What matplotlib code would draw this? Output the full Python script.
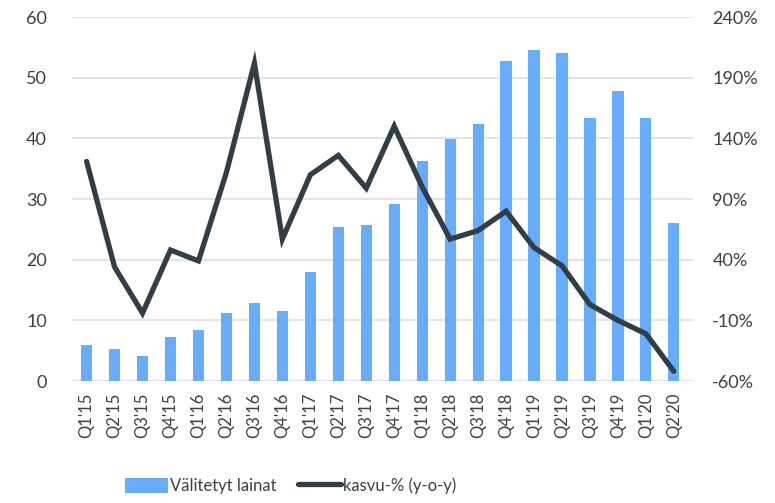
import numpy as np
import matplotlib.pyplot as plt

plt.rcParams['font.family'] = ['Lato', 'DejaVu Sans']

quarters = ["Q1'15", "Q2'15", "Q3'15", "Q4'15", "Q1'16", "Q2'16", "Q3'16", "Q4'16",
            "Q1'17", "Q2'17", "Q3'17", "Q4'17", "Q1'18", "Q2'18", "Q3'18", "Q4'18",
            "Q1'19", "Q2'19", "Q3'19", "Q4'19", "Q1'20", "Q2'20"]
lainat = [6.0, 5.2, 4.1, 7.2, 8.4, 11.2, 12.8, 11.6, 17.9, 25.4, 25.7, 29.2,
          36.2, 39.9, 42.4, 52.8, 54.6, 54.1, 43.4, 47.8, 43.3, 26.0]
kasvu = [121, 34, -4, 48, 39, 112, 202, 57, 110, 126, 99, 150,
         100, 57, 64, 80, 50, 35, 3, -10, -21, -52]

bar_col = '#66adff'
line_col = '#323d48'
txt_col = '#3b4046'
grid_col = '#e1e4e9'

x = np.arange(len(quarters))

fig = plt.figure(figsize=(7.75, 5.03), dpi=100)
ax = fig.add_axes([0.093, 0.2425, 0.801, 0.7235])
ax2 = ax.twinx()

ax.bar(x, lainat, width=0.4, color=bar_col, zorder=2, label='Välitetyt lainat')
ax2.plot(x, kasvu, color=line_col, lw=3.8, solid_joinstyle='miter',
         solid_capstyle='round', label='kasvu-% (y-o-y)')

ax.set_ylim(0, 60)
ax.set_yticks(range(0, 61, 10))
ax2.set_ylim(-60, 240)
ax2.set_yticks(range(-60, 241, 50))
ax2.set_yticklabels([f'{v}%' for v in range(-60, 241, 50)])
ax.set_xlim(-0.52, 21.68)
ax.set_xticks(x)
ax.set_xticklabels(quarters, rotation=90)

ax.grid(axis='y', color=grid_col, lw=1.5, zorder=0)
ax.set_axisbelow(True)
for a in (ax, ax2):
    for s in a.spines.values():
        s.set_visible(False)
    a.tick_params(length=0, colors=txt_col)
ax.tick_params(axis='y', labelsize=13, pad=18)
ax2.tick_params(axis='y', labelsize=13, pad=14)
ax.tick_params(axis='x', labelsize=12, pad=8)

h1, l1 = ax.get_legend_handles_labels()
h2, l2 = ax2.get_legend_handles_labels()
fig.legend(h1 + h2, l1 + l2, loc='lower center', bbox_to_anchor=(0.375, -0.012),
           ncol=2, frameon=False, fontsize=12, handlelength=2.6, handleheight=1.0,
           columnspacing=1.3, handletextpad=0.1, labelcolor=txt_col)

fig.savefig('out.png', dpi=100)
